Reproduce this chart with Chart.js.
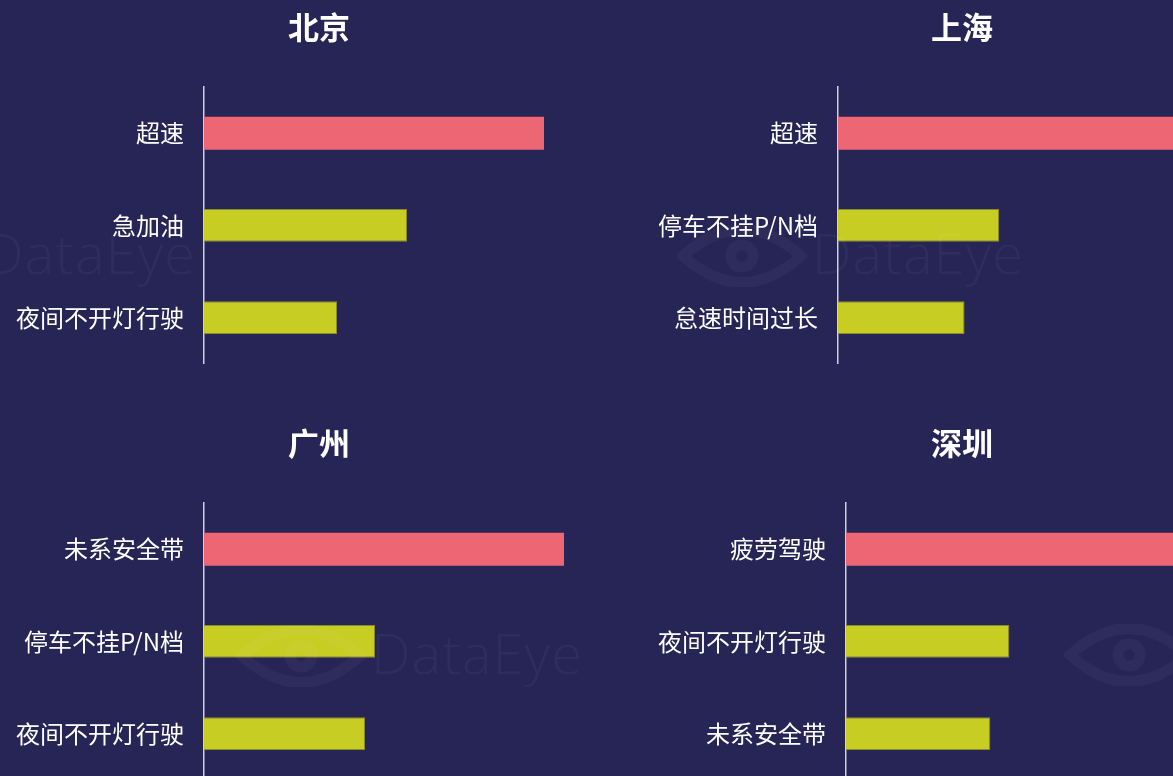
<!DOCTYPE html>
<html>
<head>
<meta charset="utf-8">
<script src="https://cdn.jsdelivr.net/npm/chart.js@4"></script>
<style>
  html, body { margin: 0; padding: 0; }
  body {
    width: 1173px; height: 776px; overflow: hidden;
    background: #272456; position: relative;
    font-family: "Noto Sans CJK SC", "Noto Sans", sans-serif;
  }
  canvas { position: absolute; display: block; }
  .mark {
    position: absolute; color: rgba(255, 255, 255, 0.045);
    font-family: "Open Sans", "DejaVu Sans", sans-serif; font-weight: 300;
    font-size: 56px; letter-spacing: 1px; line-height: 1; pointer-events: none; white-space: nowrap;
  }
  .eye { position: absolute; pointer-events: none; }
</style>
</head>
<body>
<canvas id="bj" width="638" height="398" style="left:0;top:0"></canvas>
<canvas id="sh" width="638" height="398" style="left:643px;top:0"></canvas>
<canvas id="gz" width="638" height="398" style="left:0;top:416px"></canvas>
<canvas id="sz" width="638" height="398" style="left:643px;top:416px"></canvas>

<div class="mark" style="left:-16px;top:224px">DataEye</div>
<div class="mark" style="left:812px;top:224px">DataEye</div>
<div class="mark" style="left:371px;top:624px">DataEye</div>
<svg class="eye" style="left:677px;top:225px" width="130" height="62"><g fill="none" stroke="rgba(255,255,255,0.04)" stroke-width="11"><path d="M6,31 Q65,-22 124,31 Q65,84 6,31 Z"/><circle cx="65" cy="31" r="11"/></g></svg>
<svg class="eye" style="left:236px;top:625px" width="130" height="62"><g fill="none" stroke="rgba(255,255,255,0.04)" stroke-width="11"><path d="M6,31 Q65,-22 124,31 Q65,84 6,31 Z"/><circle cx="65" cy="31" r="11"/></g></svg>
<svg class="eye" style="left:1064px;top:624px" width="130" height="62"><g fill="none" stroke="rgba(255,255,255,0.04)" stroke-width="11"><path d="M6,31 Q65,-22 124,31 Q65,84 6,31 Z"/><circle cx="65" cy="31" r="11"/></g></svg>

<script>
// City titles
const cities = ['北京', '上海', '广州', '深圳'];

// Violation categories per city (top to bottom)
const bjLabels = ['超速', '急加油', '夜间不开灯行驶'];
const shLabels = ['超速', '停车不挂P/N档', '怠速时间过长'];
const gzLabels = ['未系安全带', '停车不挂P/N档', '夜间不开灯行驶'];
const szLabels = ['疲劳驾驶', '夜间不开灯行驶', '未系安全带'];

// Values (share)
const bjValues = [34.0, 20.3, 13.3];
const shValues = [36.0, 15.8, 12.4];
const gzValues = [36.0, 17.1, 16.1];
const szValues = [35.0, 16.3, 14.4];

const xMax = 43.4;

const RED = '#ed6674';
const YELLOW = '#c8cd24';

// Function to create one city chart
function createCityChart(id, title, labels, values, axisWidth) {
    const ctx = document.getElementById(id).getContext('2d');
    return new Chart(ctx, {
        type: 'bar',
        data: {
            labels: labels,
            datasets: [{
                data: values,
                backgroundColor: values.map((v, i) => i === 0 ? RED : YELLOW),
                borderColor: values.map((v, i) => i === 0 ? RED : 'rgba(150, 150, 40, 0.9)'),
                borderWidth: values.map((v, i) => i === 0 ? 0 : 1),
                borderSkipped: 'left',
                categoryPercentage: 1,
                barPercentage: 0.356
            }]
        },
        options: {
            indexAxis: 'y',
            responsive: false,
            animation: false,
            layout: {
                padding: { left: 0, right: 0, top: 0, bottom: 15 }
            },
            scales: {
                x: {
                    display: false,
                    min: 0,
                    max: xMax
                },
                y: {
                    grid: { display: false, drawTicks: false },
                    border: { display: true, color: '#cfcfdc', width: 1.5 },
                    ticks: {
                        color: '#ffffff',
                        padding: 20,
                        font: { family: '"Noto Sans CJK SC", sans-serif', size: 24 }
                    },
                    afterFit: function(scale) {
                        scale.width = axisWidth;
                    }
                }
            },
            plugins: {
                legend: { display: false },
                tooltip: { enabled: false },
                title: {
                    display: true,
                    text: title,
                    color: '#ffffff',
                    font: { family: '"Noto Sans CJK SC", sans-serif', size: 31, weight: 'bold' },
                    padding: { top: 9, bottom: 41 }
                }
            }
        }
    });
}

createCityChart('bj', cities[0], bjLabels, bjValues, 204);
createCityChart('sh', cities[1], shLabels, shValues, 195);
createCityChart('gz', cities[2], gzLabels, gzValues, 204);
createCityChart('sz', cities[3], szLabels, szValues, 203);
</script>
</body>
</html>
